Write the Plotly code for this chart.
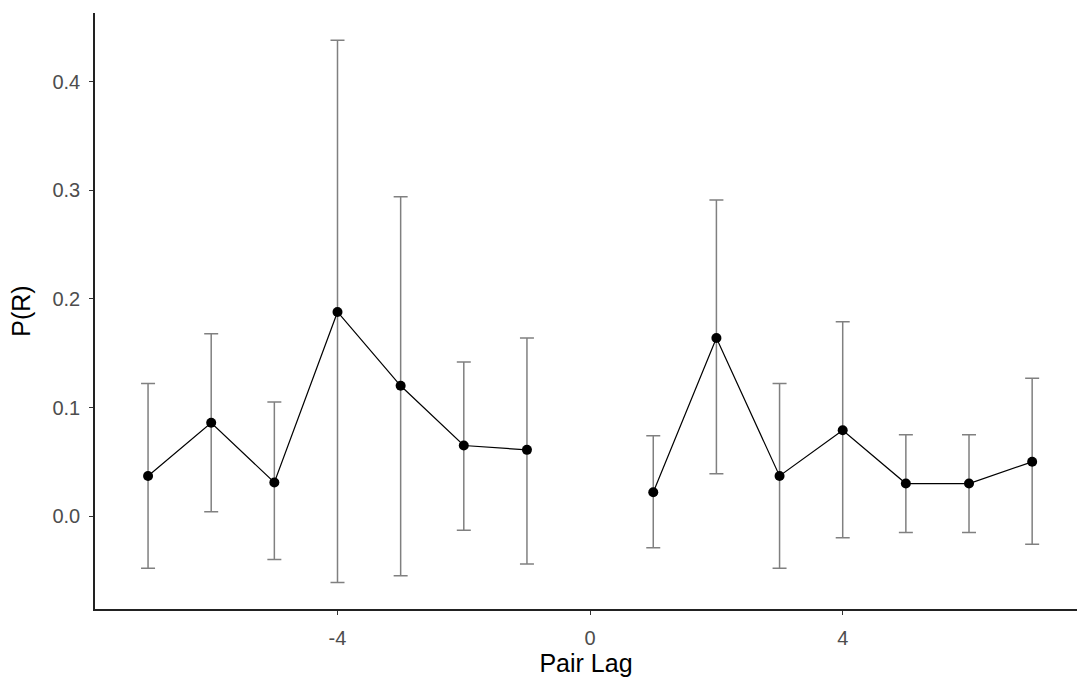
import plotly.graph_objects as go

lags = [-7, -6, -5, -4, -3, -2, -1, 0, 1, 2, 3, 4, 5, 6, 7]
mean = [0.037, 0.086, 0.031, 0.188, 0.120, 0.065, 0.061, None, 0.022, 0.164, 0.037, 0.079, 0.030, 0.030, 0.050]
upper = [0.122, 0.168, 0.105, 0.438, 0.294, 0.142, 0.164, None, 0.074, 0.291, 0.122, 0.179, 0.075, 0.075, 0.127]
lower = [-0.048, 0.004, -0.040, -0.061, -0.055, -0.013, -0.044, None, -0.029, 0.039, -0.048, -0.020, -0.015, -0.015, -0.026]

x_ticks = [-4, 0, 4]
y_ticks = [0.0, 0.1, 0.2, 0.3, 0.4]

err_plus = [None if m is None else u - m for m, u in zip(mean, upper)]
err_minus = [None if m is None else m - l for m, l in zip(mean, lower)]

FONT = "Liberation Sans, Arial, sans-serif"

fig = go.Figure()
# error bars (grey)
fig.add_trace(go.Scatter(
    x=lags, y=mean, mode="none",
    error_y=dict(type="data", symmetric=False, array=err_plus, arrayminus=err_minus,
                 color="#808080", thickness=1.5, width=7),
    showlegend=False, hoverinfo="skip",
))
# line + points
fig.add_trace(go.Scatter(
    x=lags, y=mean, mode="lines+markers",
    line=dict(color="black", width=1.2),
    marker=dict(color="black", size=10),
    connectgaps=False, showlegend=False,
))

axis_common = dict(
    showgrid=False, zeroline=False, showline=True, linecolor="#222222", linewidth=1.5,
    ticks="outside", ticklen=4, tickwidth=1, tickcolor="#333333",
    tickfont=dict(family=FONT, size=20, color="#4D4D4D"),
    mirror=False,
)

fig.update_layout(
    width=1077, height=686,
    margin=dict(l=95, r=0, t=13, b=77),
    paper_bgcolor="white", plot_bgcolor="white",
    xaxis=dict(range=[-7.84, 7.71], tickvals=x_ticks, ticktext=[str(v) for v in x_ticks],
               ticklabelstandoff=6,
               title=dict(text="Pair Lag", font=dict(family=FONT, size=25, color="black"), standoff=5),
               **axis_common),
    yaxis=dict(range=[-0.0855, 0.4632], tickvals=y_ticks, ticktext=[f"{v:.1f}" for v in y_ticks],
               ticklabelstandoff=5,
               title=dict(text="P(R)", font=dict(family=FONT, size=25, color="black"), standoff=15),
               **axis_common),
)

fig.write_html("out.html")
